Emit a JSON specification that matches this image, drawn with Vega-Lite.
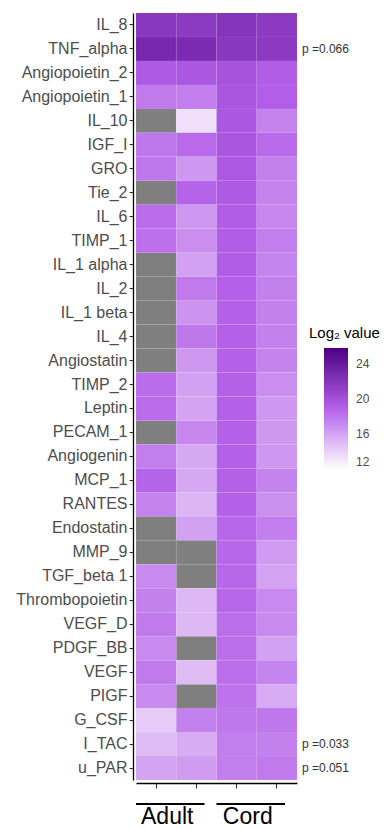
{
  "$schema": "https://vega.github.io/schema/vega-lite/v6.json",
  "background": "white",
  "padding": {"left": 15, "top": 12, "right": 2, "bottom": 0},
  "spacing": 4,
  "config": {
    "view": {"stroke": null},
    "font": "Liberation Sans"
  },
  "datasets": {
    "cells": [
      {"protein": "IL_8", "sample": "Adult 1", "value": 21.8}, {"protein": "IL_8", "sample": "Adult 2", "value": 21.6}, {"protein": "IL_8", "sample": "Cord 1", "value": 22.0}, {"protein": "IL_8", "sample": "Cord 2", "value": 21.6},
      {"protein": "TNF_alpha", "sample": "Adult 1", "value": 22.9}, {"protein": "TNF_alpha", "sample": "Adult 2", "value": 22.7}, {"protein": "TNF_alpha", "sample": "Cord 1", "value": 21.8}, {"protein": "TNF_alpha", "sample": "Cord 2", "value": 21.6},
      {"protein": "Angiopoietin_2", "sample": "Adult 1", "value": 19.3}, {"protein": "Angiopoietin_2", "sample": "Adult 2", "value": 19.5}, {"protein": "Angiopoietin_2", "sample": "Cord 1", "value": 19.8}, {"protein": "Angiopoietin_2", "sample": "Cord 2", "value": 19.1},
      {"protein": "Angiopoietin_1", "sample": "Adult 1", "value": 17.8}, {"protein": "Angiopoietin_1", "sample": "Adult 2", "value": 17.6}, {"protein": "Angiopoietin_1", "sample": "Cord 1", "value": 19.6}, {"protein": "Angiopoietin_1", "sample": "Cord 2", "value": 19.0},
      {"protein": "IL_10", "sample": "Adult 1", "value": null}, {"protein": "IL_10", "sample": "Adult 2", "value": 13.4}, {"protein": "IL_10", "sample": "Cord 1", "value": 19.5}, {"protein": "IL_10", "sample": "Cord 2", "value": 17.4},
      {"protein": "IGF_I", "sample": "Adult 1", "value": 17.9}, {"protein": "IGF_I", "sample": "Adult 2", "value": 18.5}, {"protein": "IGF_I", "sample": "Cord 1", "value": 19.6}, {"protein": "IGF_I", "sample": "Cord 2", "value": 18.5},
      {"protein": "GRO", "sample": "Adult 1", "value": 17.9}, {"protein": "GRO", "sample": "Adult 2", "value": 16.5}, {"protein": "GRO", "sample": "Cord 1", "value": 19.4}, {"protein": "GRO", "sample": "Cord 2", "value": 17.5},
      {"protein": "Tie_2", "sample": "Adult 1", "value": null}, {"protein": "Tie_2", "sample": "Adult 2", "value": 18.8}, {"protein": "Tie_2", "sample": "Cord 1", "value": 19.3}, {"protein": "Tie_2", "sample": "Cord 2", "value": 17.4},
      {"protein": "IL_6", "sample": "Adult 1", "value": 18.4}, {"protein": "IL_6", "sample": "Adult 2", "value": 16.5}, {"protein": "IL_6", "sample": "Cord 1", "value": 19.1}, {"protein": "IL_6", "sample": "Cord 2", "value": 17.2},
      {"protein": "TIMP_1", "sample": "Adult 1", "value": 18.2}, {"protein": "TIMP_1", "sample": "Adult 2", "value": 16.9}, {"protein": "TIMP_1", "sample": "Cord 1", "value": 19.1}, {"protein": "TIMP_1", "sample": "Cord 2", "value": 17.6},
      {"protein": "IL_1 alpha", "sample": "Adult 1", "value": null}, {"protein": "IL_1 alpha", "sample": "Adult 2", "value": 16.1}, {"protein": "IL_1 alpha", "sample": "Cord 1", "value": 19.1}, {"protein": "IL_1 alpha", "sample": "Cord 2", "value": 17.3},
      {"protein": "IL_2", "sample": "Adult 1", "value": null}, {"protein": "IL_2", "sample": "Adult 2", "value": 17.8}, {"protein": "IL_2", "sample": "Cord 1", "value": 18.9}, {"protein": "IL_2", "sample": "Cord 2", "value": 17.5},
      {"protein": "IL_1 beta", "sample": "Adult 1", "value": null}, {"protein": "IL_1 beta", "sample": "Adult 2", "value": 16.7}, {"protein": "IL_1 beta", "sample": "Cord 1", "value": 18.9}, {"protein": "IL_1 beta", "sample": "Cord 2", "value": 17.5},
      {"protein": "IL_4", "sample": "Adult 1", "value": null}, {"protein": "IL_4", "sample": "Adult 2", "value": 17.9}, {"protein": "IL_4", "sample": "Cord 1", "value": 18.9}, {"protein": "IL_4", "sample": "Cord 2", "value": 17.5},
      {"protein": "Angiostatin", "sample": "Adult 1", "value": null}, {"protein": "Angiostatin", "sample": "Adult 2", "value": 16.5}, {"protein": "Angiostatin", "sample": "Cord 1", "value": 18.9}, {"protein": "Angiostatin", "sample": "Cord 2", "value": 17.4},
      {"protein": "TIMP_2", "sample": "Adult 1", "value": 18.4}, {"protein": "TIMP_2", "sample": "Adult 2", "value": 16.1}, {"protein": "TIMP_2", "sample": "Cord 1", "value": 18.9}, {"protein": "TIMP_2", "sample": "Cord 2", "value": 16.9},
      {"protein": "Leptin", "sample": "Adult 1", "value": 18.4}, {"protein": "Leptin", "sample": "Adult 2", "value": 16.0}, {"protein": "Leptin", "sample": "Cord 1", "value": 18.9}, {"protein": "Leptin", "sample": "Cord 2", "value": 16.5},
      {"protein": "PECAM_1", "sample": "Adult 1", "value": null}, {"protein": "PECAM_1", "sample": "Adult 2", "value": 17.2}, {"protein": "PECAM_1", "sample": "Cord 1", "value": 18.9}, {"protein": "PECAM_1", "sample": "Cord 2", "value": 16.5},
      {"protein": "Angiogenin", "sample": "Adult 1", "value": 17.6}, {"protein": "Angiogenin", "sample": "Adult 2", "value": 15.8}, {"protein": "Angiogenin", "sample": "Cord 1", "value": 18.9}, {"protein": "Angiogenin", "sample": "Cord 2", "value": 16.5},
      {"protein": "MCP_1", "sample": "Adult 1", "value": 18.8}, {"protein": "MCP_1", "sample": "Adult 2", "value": 15.8}, {"protein": "MCP_1", "sample": "Cord 1", "value": 18.9}, {"protein": "MCP_1", "sample": "Cord 2", "value": 17.4},
      {"protein": "RANTES", "sample": "Adult 1", "value": 17.4}, {"protein": "RANTES", "sample": "Adult 2", "value": 15.2}, {"protein": "RANTES", "sample": "Cord 1", "value": 18.9}, {"protein": "RANTES", "sample": "Cord 2", "value": 16.8},
      {"protein": "Endostatin", "sample": "Adult 1", "value": null}, {"protein": "Endostatin", "sample": "Adult 2", "value": 16.1}, {"protein": "Endostatin", "sample": "Cord 1", "value": 18.6}, {"protein": "Endostatin", "sample": "Cord 2", "value": 17.6},
      {"protein": "MMP_9", "sample": "Adult 1", "value": null}, {"protein": "MMP_9", "sample": "Adult 2", "value": null}, {"protein": "MMP_9", "sample": "Cord 1", "value": 18.6}, {"protein": "MMP_9", "sample": "Cord 2", "value": 16.3},
      {"protein": "TGF_beta 1", "sample": "Adult 1", "value": 17.1}, {"protein": "TGF_beta 1", "sample": "Adult 2", "value": null}, {"protein": "TGF_beta 1", "sample": "Cord 1", "value": 18.6}, {"protein": "TGF_beta 1", "sample": "Cord 2", "value": 16.0},
      {"protein": "Thrombopoietin", "sample": "Adult 1", "value": 17.5}, {"protein": "Thrombopoietin", "sample": "Adult 2", "value": 15.1}, {"protein": "Thrombopoietin", "sample": "Cord 1", "value": 18.6}, {"protein": "Thrombopoietin", "sample": "Cord 2", "value": 17.1},
      {"protein": "VEGF_D", "sample": "Adult 1", "value": 17.8}, {"protein": "VEGF_D", "sample": "Adult 2", "value": 15.1}, {"protein": "VEGF_D", "sample": "Cord 1", "value": 18.3}, {"protein": "VEGF_D", "sample": "Cord 2", "value": 17.1},
      {"protein": "PDGF_BB", "sample": "Adult 1", "value": 17.1}, {"protein": "PDGF_BB", "sample": "Adult 2", "value": null}, {"protein": "PDGF_BB", "sample": "Cord 1", "value": 18.3}, {"protein": "PDGF_BB", "sample": "Cord 2", "value": 16.1},
      {"protein": "VEGF", "sample": "Adult 1", "value": 17.8}, {"protein": "VEGF", "sample": "Adult 2", "value": 14.9}, {"protein": "VEGF", "sample": "Cord 1", "value": 18.3}, {"protein": "VEGF", "sample": "Cord 2", "value": 17.3},
      {"protein": "PIGF", "sample": "Adult 1", "value": 17.1}, {"protein": "PIGF", "sample": "Adult 2", "value": null}, {"protein": "PIGF", "sample": "Cord 1", "value": 18.1}, {"protein": "PIGF", "sample": "Cord 2", "value": 15.7},
      {"protein": "G_CSF", "sample": "Adult 1", "value": 14.3}, {"protein": "G_CSF", "sample": "Adult 2", "value": 17.5}, {"protein": "G_CSF", "sample": "Cord 1", "value": 17.9}, {"protein": "G_CSF", "sample": "Cord 2", "value": 17.9},
      {"protein": "I_TAC", "sample": "Adult 1", "value": 14.9}, {"protein": "I_TAC", "sample": "Adult 2", "value": 15.6}, {"protein": "I_TAC", "sample": "Cord 1", "value": 17.6}, {"protein": "I_TAC", "sample": "Cord 2", "value": 17.5},
      {"protein": "u_PAR", "sample": "Adult 1", "value": 16.0}, {"protein": "u_PAR", "sample": "Adult 2", "value": 16.3}, {"protein": "u_PAR", "sample": "Cord 1", "value": 17.6}, {"protein": "u_PAR", "sample": "Cord 2", "value": 17.8}
    ],
    "pvals": [
      {"protein": "TNF_alpha", "label": "p =0.066"},
      {"protein": "I_TAC", "label": "p =0.033"},
      {"protein": "u_PAR", "label": "p =0.051"}
    ],
    "groups": [
      {"group": "Adult", "first": "Adult 1", "last": "Adult 2"},
      {"group": "Cord", "first": "Cord 1", "last": "Cord 2"}
    ]
  },
  "vconcat": [
    {
      "width": 161,
      "height": 767,
      "encoding": {
        "x": {
          "field": "sample", "type": "nominal",
          "scale": {"domain": ["Adult 1", "Adult 2", "Cord 1", "Cord 2"], "paddingInner": 0, "paddingOuter": 0},
          "axis": {"title": null, "labels": false, "offset": 3, "domainColor": "black", "domainWidth": 1.3, "tickColor": "#333333", "tickSize": 5, "tickWidth": 1.1}
        },
        "y": {
          "field": "protein", "type": "nominal",
          "scale": {"domain": ["IL_8", "TNF_alpha", "Angiopoietin_2", "Angiopoietin_1", "IL_10", "IGF_I", "GRO", "Tie_2", "IL_6", "TIMP_1", "IL_1 alpha", "IL_2", "IL_1 beta", "IL_4", "Angiostatin", "TIMP_2", "Leptin", "PECAM_1", "Angiogenin", "MCP_1", "RANTES", "Endostatin", "MMP_9", "TGF_beta 1", "Thrombopoietin", "VEGF_D", "PDGF_BB", "VEGF", "PIGF", "G_CSF", "I_TAC", "u_PAR"], "paddingInner": 0, "paddingOuter": 0},
          "axis": {"title": null, "offset": 3, "domainColor": "black", "domainWidth": 1.3, "tickColor": "#333333", "tickSize": 4, "tickWidth": 1.1, "labelColor": "#4d4d4d", "labelFontSize": 16, "labelPadding": 2, "labelLimit": 200}
        }
      },
      "layer": [
        {
          "data": {"name": "cells"},
          "transform": [{"filter": "datum.value === null"}],
          "mark": {"type": "rect", "color": "#7f7f7f", "stroke": "#ffffff", "strokeOpacity": 0.1, "strokeWidth": 0.5}
        },
        {
          "data": {"name": "cells"},
          "transform": [{"filter": "datum.value !== null"}],
          "mark": {"type": "rect", "stroke": "#ffffff", "strokeOpacity": 0.1, "strokeWidth": 0.5},
          "encoding": {
            "color": {
              "field": "value", "type": "quantitative", "title": "Log₂ value",
              "scale": {"domain": [12, 19, 25.8], "range": ["#ffffff", "#b35ee8", "#4b0082"], "interpolate": "rgb"},
              "legend": {
                "orient": "none", "legendX": 173, "legendY": 313, "direction": "vertical",
                "gradientLength": 121, "gradientThickness": 24, "gradientStrokeWidth": 0,
                "values": [12, 16, 20, 24],
                "titleFontSize": 15, "titleFontWeight": "normal", "titleColor": "black", "titlePadding": 7, "titleLimit": 200,
                "labelFontSize": 12, "labelColor": "#4d4d4d", "labelOffset": 8,
                "encode": {"title": {"update": {"dx": {"value": -15}}}}
              }
            }
          }
        },
        {
          "data": {"name": "pvals"},
          "mark": {"type": "text", "align": "left", "baseline": "middle", "dx": 25, "fontSize": 12, "color": "#333333"},
          "encoding": {
            "x": {"datum": "Cord 2", "type": "nominal"},
            "text": {"field": "label"}
          }
        }
      ]
    },
    {
      "width": 161,
      "height": 38,
      "data": {"name": "groups"},
      "layer": [
        {
          "mark": {"type": "rule", "color": "black", "strokeWidth": 2, "x2Offset": -12},
          "encoding": {
            "x": {"field": "first", "type": "nominal", "bandPosition": 0,
                  "scale": {"type": "band", "domain": ["Adult 1", "Adult 2", "Cord 1", "Cord 2"], "paddingInner": 0, "paddingOuter": 0},
                  "axis": null},
            "x2": {"field": "last", "bandPosition": 1},
            "y": {"value": 11}
          }
        },
        {
          "mark": {"type": "text", "fontSize": 23, "color": "black", "baseline": "bottom", "dx": -9},
          "encoding": {
            "x": {"field": "first", "type": "nominal", "bandPosition": 1,
                  "scale": {"type": "band", "domain": ["Adult 1", "Adult 2", "Cord 1", "Cord 2"], "paddingInner": 0, "paddingOuter": 0},
                  "axis": null},
            "y": {"value": 36},
            "text": {"field": "group"}
          }
        }
      ]
    }
  ],
  "resolve": {"scale": {"x": "independent"}}
}
